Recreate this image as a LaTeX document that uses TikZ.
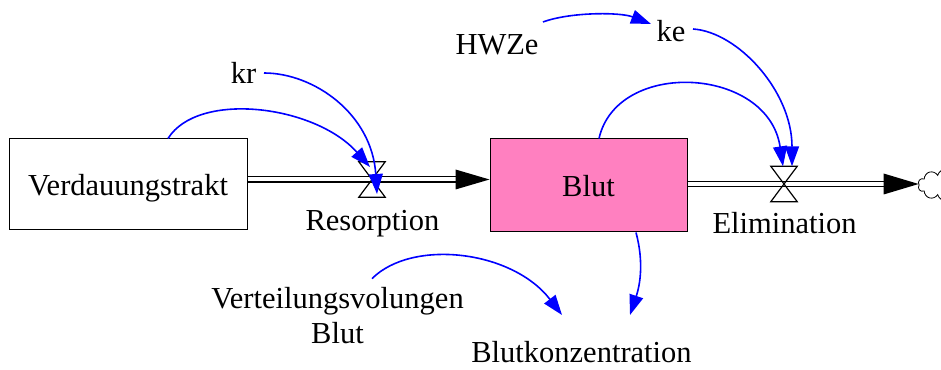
\documentclass[tikz,border=0pt]{standalone}
\usepackage{fontspec}
\setmainfont{Liberation Serif}
\usetikzlibrary{arrows.meta,calc,shapes.symbols}
\definecolor{stockpink}{RGB}{255,128,192}
\begin{document}
\begin{tikzpicture}[x=1pt,y=1pt,
  every node/.style={font=\fontsize{30.5}{34}\selectfont, inner sep=0pt},
  stock/.style={draw, line width=1pt, minimum width=238pt, minimum height=91pt,
                text height=22pt, text depth=0pt},
  valve/.style={minimum width=26pt, minimum height=35pt},
  valveline/.style={line width=1.2pt, line join=miter},
  pipe/.style={double, line width=1.4pt, double distance=4pt},
  link/.style={blue, line width=1.6pt, -{Triangle[length=20pt,width=14pt]}},
]
\useasboundingbox (0,0) rectangle (941,369);

% stocks
\node[stock] (verd) at (128,184.5) {Verdauungstrakt};
\node[stock, fill=stockpink, minimum width=197pt, minimum height=93pt] (blut) at (588.5,183.5) {Blut};

% valves and sink
\node[valve] (v1) at (372,189.5) {};
\node[valve] (v2) at (784,185) {};
\node[draw, cloud, cloud puffs=10, aspect=1.5, minimum width=56pt, minimum height=32pt,
      line width=0.8pt] (sink) at (946,184) {};

% labels and auxiliaries
\node[anchor=base] (res) at (372.5,138) {Resorption};
\node[anchor=base] (elim) at (784.5,135) {Elimination};
\node[anchor=base] (kr) at (243.5,285) {kr};
\node[anchor=base] (hwze) at (497,314) {HWZe};
\node[anchor=base] (ke) at (671,327) {ke};
\node[anchor=base, align=center] (vert) at (337.5,26) {Verteilungsvolungen\\Blut};
\node[anchor=base] (bk) at (581.5,7) {Blutkonzentration};

% flow pipes
\draw[pipe] (verd.east |- v1) -- ($(blut.west |- v1)+(-33,0)$);
\fill (blut.west |- v1) -- ++(-34,10) -- ++(0,-20) -- cycle;
\draw[pipe] (blut.east |- v2) -- ($(sink.west |- v2)+(-33,0)$);
\fill (sink.west |- v2) -- ++(-35,10.5) -- ++(0,-21) -- cycle;

% valve bowties
\draw[valveline] (v1.north west) -- (v1.north east) -- (v1.south west) -- (v1.south east) -- cycle;
\draw[valveline] (v2.north west) -- (v2.north east) -- (v2.south west) -- (v2.south east) -- cycle;

% information links
\draw[link] ($(kr.base)+(20.5,11)$) .. controls +(50,0) and +(-5,80) .. ($(v1)+(5,-14.5)$);
\draw[link] ($(verd.north)+(40,0)$) .. controls +(30,48) and +(-55,62) .. ($(v1)+(-2,12.5)$);
\draw[link] ($(hwze.base)+(46,33)$) .. controls +(27,10) and +(-31,12) .. ($(ke.base)+(-20,18)$);
\draw[link] ($(ke.base)+(22,13)$) .. controls +(45,-3) and +(0,75) .. ($(v2.north)+(8,0)$);
\draw[link] ($(blut.north)+(10.5,0)$) .. controls +(18,80) and +(-15,100) .. ($(v2.north)+(-1,0)$);
\draw[link] ($(blut.south)+(47.5,0)$) .. controls +(8,-30) and +(10,30) .. ($(bk.base)+(48.5,47)$);
\draw[link] ($(vert.north)+(34.5,9)$) .. controls +(40,40) and +(-50,65) .. ($(bk.base)+(-19.5,47)$);
\end{tikzpicture}
\end{document}
